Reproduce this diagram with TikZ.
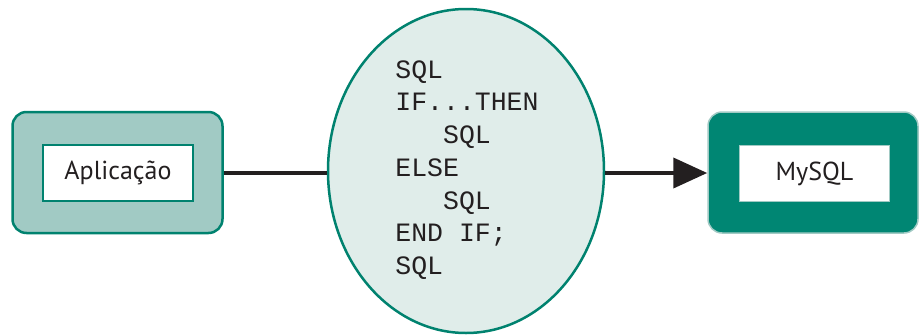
\documentclass[tikz,border=0pt]{standalone}
\usepackage{fontspec}
\setsansfont{PT Sans}
\setmonofont{Liberation Mono}
\usetikzlibrary{shapes.geometric, arrows.meta}

\definecolor{tealline}{HTML}{00826F}
\definecolor{tealdark}{HTML}{008673}
\definecolor{teallight}{HTML}{A1CAC4}
\definecolor{tealpale}{HTML}{E0EDEA}
\definecolor{inkline}{HTML}{231F20}

\tikzset{
  outerbox/.style={rectangle, rounded corners=14pt, line width=2.5pt, minimum width=210pt, minimum height=121pt, inner sep=0pt},
  innerbox/.style={rectangle, fill=white, line width=2pt, minimum width=150pt, minimum height=56pt, inner sep=0pt, font=\sffamily\fontsize{26}{30}\selectfont, text=inkline},
  link/.style={line width=4pt, draw=inkline}
}

\begin{document}
\begin{tikzpicture}[x=1pt, y=-1pt]
\useasboundingbox (0,0) rectangle (919,335);

\node[outerbox, draw=tealline, fill=teallight] (app) at (117.5,172.5) {};
\node[innerbox, draw=tealline] (applabel) at (118,173) {Aplica\c{c}\~ao};

\node[ellipse, draw=tealline, fill=tealpale, line width=2.5pt, minimum width=276pt, minimum height=324pt, inner sep=0pt] (sql) at (466,171) {};
\node[align=left, font=\ttfamily\fontsize{26.5}{32.7}\selectfont, text=inkline, inner sep=0pt] (code) at (467,170) {SQL\\IF...THEN\\\ \ \ SQL\\ELSE\\\ \ \ SQL\\END IF;\\SQL};

\node[outerbox, draw=teallight, fill=tealdark, line width=1.5pt] (db) at (813,172.5) {};
\node[innerbox, draw=teallight, line width=1.5pt] (dblabel) at (814.5,173.5) {MySQL};

\draw[link] (app.east |- 0,173) -- (sql.west |- 0,173);
\draw[link, -{Triangle[length=34pt, width=30pt]}] (sql.east |- 0,173) -- (db.west |- 0,173);

\end{tikzpicture}
\end{document}
